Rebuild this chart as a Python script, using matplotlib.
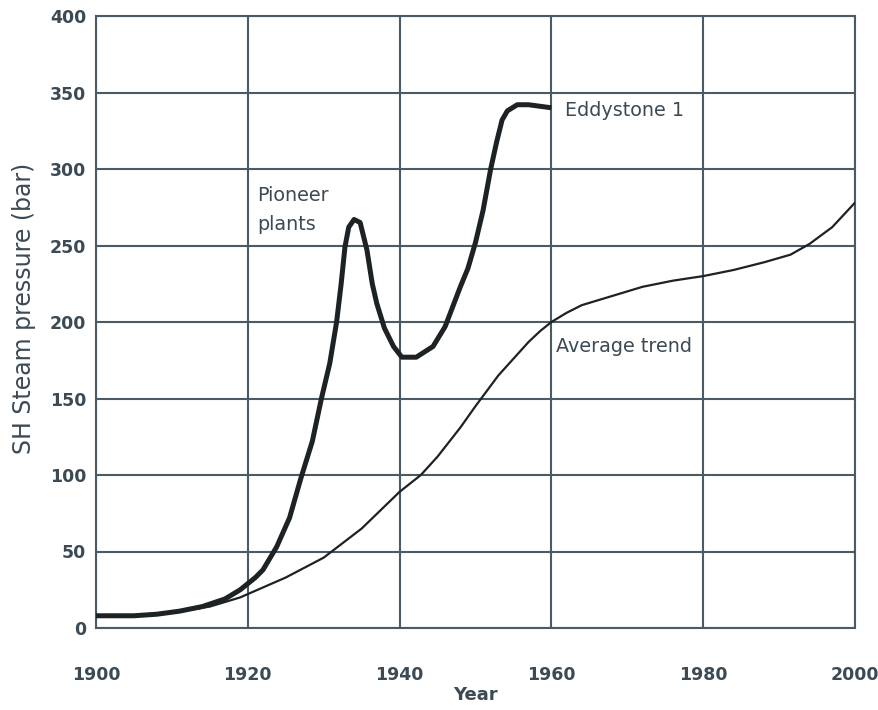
import matplotlib
matplotlib.use("Agg")
import matplotlib.pyplot as plt

# Data
pioneer_year = [1900, 1905, 1908, 1911, 1914, 1917, 1919, 1921, 1922, 1923.8, 1925.5,
                1927, 1928.5, 1929.7, 1930.8, 1931.7, 1932.3, 1932.8, 1933.3, 1934,
                1934.8, 1935.7, 1936.4, 1937, 1938, 1939.2, 1940.3, 1942.2, 1944.4,
                1946, 1947, 1948, 1949, 1950, 1951, 1952, 1952.8, 1953.5, 1954.2,
                1955.5, 1957, 1960]
pioneer_bar = [8, 8, 9, 11, 14, 19, 25, 33, 38, 53, 72,
               98, 122, 150, 173, 200, 225, 249, 262, 267,
               265, 247, 225, 212, 196, 184, 177, 177, 184,
               197, 210, 223, 235, 252, 273, 300, 318, 332, 338,
               342, 342, 340]

avg_year = [1900, 1905, 1910, 1915, 1919, 1925, 1930, 1935, 1940, 1942.8, 1945,
            1948, 1950, 1953, 1955, 1957, 1958.5, 1960, 1962, 1964, 1968, 1972,
            1976, 1980, 1984, 1988, 1991.5, 1994, 1997, 2000]
avg_bar = [8, 8, 10, 14, 20, 33, 46, 65, 89, 100, 112,
           131, 145, 165, 176, 187, 194, 200, 206, 211, 217, 223,
           227, 230, 234, 239, 244, 251, 262, 278]

x_ticks = [1900, 1920, 1940, 1960, 1980, 2000]
y_ticks = [0, 50, 100, 150, 200, 250, 300, 350, 400]

grid_c = "#4b5b64"
text_c = "#3b4a54"
line_c = "#1d2225"

plt.rcParams['font.family'] = ['DejaVu Sans']

fig = plt.figure(figsize=(8.79, 7.10), dpi=100)
ax = fig.add_axes([96/879, 1-628/710, (855-96)/879, (628-16)/710])

ax.plot(avg_year, avg_bar, color=line_c, lw=1.6, solid_capstyle='round',
        solid_joinstyle='round', zorder=3)
ax.plot(pioneer_year, pioneer_bar, color=line_c, lw=3.6, solid_capstyle='butt',
        solid_joinstyle='round', zorder=4)

ax.set_xlim(1900, 2000)
ax.set_ylim(0, 400)
ax.set_xticks(x_ticks)
ax.set_yticks(y_ticks)
ax.grid(True, color=grid_c, lw=1.5)
ax.set_axisbelow(True)
for s in ax.spines.values():
    s.set_color(grid_c)
    s.set_linewidth(1.5)
ax.tick_params(length=0, colors=text_c, labelsize=12.5)
ax.tick_params(axis='x', pad=27)
ax.tick_params(axis='y', pad=7)
for lab in ax.get_xticklabels() + ax.get_yticklabels():
    lab.set_fontweight('bold')

ax.set_xlabel("Year", color=text_c, fontsize=13, fontweight='bold', labelpad=2)
ax.set_ylabel("SH Steam pressure (bar)", color=text_c, fontsize=17, va='center')
ax.yaxis.set_label_coords((24 - 96) / 759, (628 - 308) / 612)

ax.text(1921.2, 289, "Pioneer\nplants", color=text_c, fontsize=13.8, ha='left', va='top',
        linespacing=1.7)
ax.text(1961.8, 338, "Eddystone 1", color=text_c, fontsize=13.8, ha='left', va='center')
ax.text(1960.6, 184, "Average trend", color=text_c, fontsize=13.8, ha='left', va='center')

fig.savefig("out.png", dpi=100)
